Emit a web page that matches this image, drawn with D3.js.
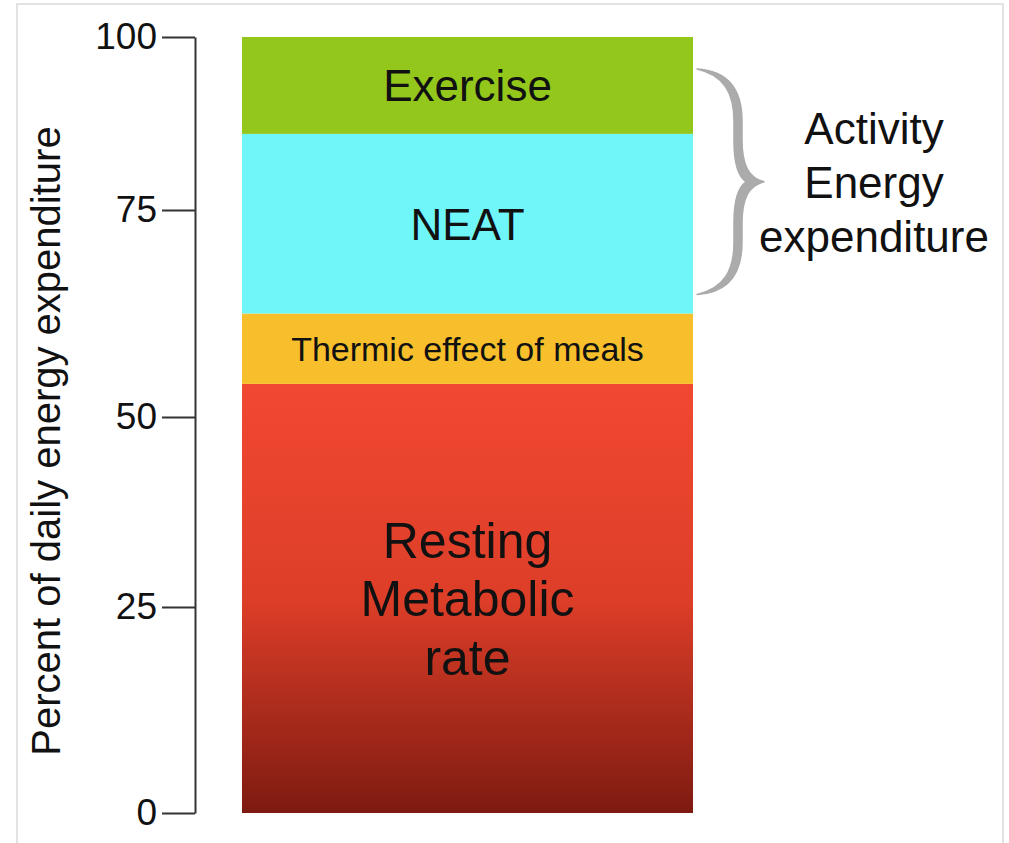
<!DOCTYPE html>
<html>
<head>
<meta charset="utf-8">
<script src="https://cdn.jsdelivr.net/npm/d3@7"></script>
<style>
  body { margin: 0; background: #fff; }
  text { font-family: "Liberation Sans", Arial, sans-serif; fill: #111; }
</style>
</head>
<body>
<svg id="energy"></svg>
<script>
// Components of daily energy expenditure, bottom to top (percent)
const categories = ["Resting Metabolic rate", "Thermic effect of meals", "NEAT", "Exercise"];
const values = [54, 8.5, 23.5, 14];
const labelLines = [["Resting", "Metabolic", "rate"], ["Thermic effect of meals"], ["NEAT"], ["Exercise"]];
const tickValues = [0, 25, 50, 75, 100];
const braceGroup = ["NEAT", "Exercise"];
const braceLabel = ["Activity", "Energy", "expenditure"];
const yTitle = "Percent of daily energy expenditure";

const W = 1009, H = 843;

const svg = d3.select("#energy")
  .attr("width", W)
  .attr("height", H);

// light frame round the picture
svg.append("rect")
  .attr("x", 17).attr("y", 4)
  .attr("width", 986).attr("height", H + 10)
  .attr("fill", "none")
  .attr("stroke", "#e2e2e2")
  .attr("stroke-width", 2);

// the drawn axis is not evenly spaced, so the scale is piecewise
const y = d3.scaleLinear()
  .domain(tickValues)
  .range([813, 607, 417, 210, 37]);

const x = d3.scaleBand()
  .domain(["total"])
  .range([242, 693]);

const colors = {
  "Resting Metabolic rate": "url(#restGrad)",
  "Thermic effect of meals": "#f6bf2b",
  "NEAT": "#6ff6f8",
  "Exercise": "#93c71c"
};
const fontSizes = {
  "Resting Metabolic rate": 50,
  "Thermic effect of meals": 34,
  "NEAT": 44,
  "Exercise": 44
};

const defs = svg.append("defs");
const grad = defs.append("linearGradient")
  .attr("id", "restGrad")
  .attr("x1", 0).attr("y1", 0).attr("x2", 0).attr("y2", 1);
grad.append("stop").attr("offset", "0%").attr("stop-color", "#f14832");
grad.append("stop").attr("offset", "50%").attr("stop-color", "#dd3e28");
grad.append("stop").attr("offset", "100%").attr("stop-color", "#7e1a11");

// stack the values
let acc = 0;
const segs = categories.map((c, i) => {
  const s = { name: c, y0: acc, y1: acc + values[i], lines: labelLines[i] };
  acc += values[i];
  return s;
});

const chart = svg.append("g");

chart.selectAll(".seg")
  .data(segs)
  .enter().append("rect")
  .attr("class", "seg")
  .attr("x", x("total"))
  .attr("width", x.bandwidth())
  .attr("y", d => y(d.y1))
  .attr("height", d => y(d.y0) - y(d.y1))
  .attr("fill", d => colors[d.name]);

// labels inside the bar, centred on each segment
segs.forEach(d => {
  const fs = fontSizes[d.name];
  const lh = fs * 1.17;
  const cy = (y(d.y0) + y(d.y1)) / 2;
  const n = d.lines.length;
  chart.append("text")
    .attr("text-anchor", "middle")
    .attr("font-size", fs)
    .selectAll("tspan")
    .data(d.lines)
    .enter().append("tspan")
    .attr("x", x("total") + x.bandwidth() / 2)
    .attr("y", (t, i) => cy + fs * 0.36 + (i - (n - 1) / 2) * lh)
    .text(t => t);
});

// y axis
const axis = chart.append("g")
  .attr("transform", "translate(195,0)")
  .call(d3.axisLeft(y).tickValues(tickValues).tickSize(33).tickSizeOuter(0).tickPadding(5));
axis.select(".domain").attr("stroke", "#333").attr("stroke-width", 2);
axis.selectAll(".tick line").attr("stroke", "#333").attr("stroke-width", 2);
axis.selectAll(".tick text")
  .attr("font-size", 37)
  .attr("font-family", "'Liberation Sans', Arial, sans-serif")
  .attr("fill", "#111");

chart.append("text")
  .attr("transform", "translate(60,441) rotate(-90)")
  .attr("text-anchor", "middle")
  .attr("font-size", 40)
  .attr("fill", "#222")
  .text(yTitle);

// curly brace over the activity components, drawn as a tapered shape
const grp = segs.filter(s => braceGroup.includes(s.name));
const bTop = y(d3.max(grp, s => s.y1)) + 32;
const bBot = y(d3.min(grp, s => s.y0)) - 19;
const bMid = (bTop + bBot) / 2;
const bx = x("total") + x.bandwidth() + 4;
const p = d3.path();
p.moveTo(bx, bTop);
p.bezierCurveTo(bx + 33, bTop + 2, bx + 45, bTop + 22, bx + 45, bTop + 52);
p.lineTo(bx + 45, bMid - 42);
p.bezierCurveTo(bx + 45, bMid - 16, bx + 52, bMid - 4, bx + 67, bMid);
p.bezierCurveTo(bx + 52, bMid + 4, bx + 45, bMid + 16, bx + 45, bMid + 42);
p.lineTo(bx + 45, bBot - 52);
p.bezierCurveTo(bx + 45, bBot - 22, bx + 33, bBot - 2, bx, bBot);
p.bezierCurveTo(bx + 27, bBot - 6, bx + 37, bBot - 24, bx + 37, bBot - 52);
p.lineTo(bx + 37, bMid + 40);
p.bezierCurveTo(bx + 37, bMid + 16, bx + 42, bMid + 5, bx + 49, bMid);
p.bezierCurveTo(bx + 42, bMid - 5, bx + 37, bMid - 16, bx + 37, bMid - 40);
p.lineTo(bx + 37, bTop + 52);
p.bezierCurveTo(bx + 37, bTop + 24, bx + 27, bTop + 6, bx, bTop);
p.closePath();
chart.append("path")
  .attr("d", p.toString())
  .attr("fill", "#ababab")
  .attr("stroke", "#ababab")
  .attr("stroke-width", 1.5)
  .attr("stroke-linejoin", "round");

chart.append("text")
  .attr("text-anchor", "middle")
  .attr("font-size", 44)
  .selectAll("tspan")
  .data(braceLabel)
  .enter().append("tspan")
  .attr("x", 874)
  .attr("y", (t, i) => bMid + 16 + (i - 1) * 54)
  .text(t => t);
</script>
</body>
</html>
